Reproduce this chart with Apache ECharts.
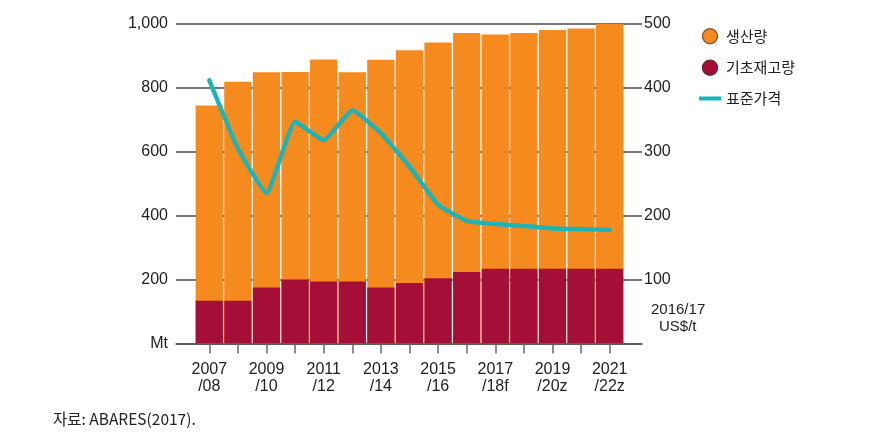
<!DOCTYPE html>
<html>
<head>
<meta charset="utf-8">
<script src="https://cdn.jsdelivr.net/npm/echarts@6/dist/echarts.min.js"></script>
<style>
html,body{margin:0;padding:0;background:#fff;}
#c{width:876px;height:440px;}
</style>
</head>
<body>
<div id="c"></div>
<script>
// ---- data ----
var categories = ['2007\n/08','2008\n/09','2009\n/10','2010\n/11','2011\n/12','2012\n/13','2013\n/14','2014\n/15','2015\n/16','2016\n/17','2017\n/18f','2018\n/19f','2019\n/20z','2020\n/21z','2021\n/22z'];
var labeledIdx = [0,2,4,6,8,10,12,14];
var baseStock = [134,134,175,200,194,194,175,189,204,224,234,234,234,234,234];
var totalSupply = [745,819,849,850,889,849,888,918,942,972,967,972,981,986,1000];
var price = [412,305,235,347,318,365,329,277,217,192,187,184,180,179,178];

var latin = '"Liberation Sans", Arial, sans-serif';
var kr = '"Noto Sans CJK KR", sans-serif';

function pairs(arr){ return arr.map(function(v,i){ return [i, v]; }); }

var chart = echarts.init(document.getElementById('c'), null, {renderer:'canvas'});
chart.setOption({
  animation:false,
  backgroundColor:'#ffffff',
  grid:{left:176, right:234, top:24, bottom:96.5, containLabel:false},
  legend:{
    orient:'vertical', left:694, top:23, itemGap:15, itemWidth:22, itemHeight:15,
    textStyle:{fontFamily:kr, fontSize:15, color:'#222'},
    data:[
      {name:'생산량', icon:'circle', itemStyle:{borderColor:'#8a5a30', borderWidth:1.5}},
      {name:'기초재고량', icon:'circle', itemStyle:{borderColor:'#6a2a30', borderWidth:1.5}},
      {name:'표준가격', icon:'path://M0,0h22v4h-22z', itemStyle:{color:'#1DB3B7'}}
    ]
  },
  xAxis:{
    type:'value', min:-1.164, max:15.13,
    axisLine:{show:true, onZero:false, lineStyle:{color:'#555', width:1.5}},
    splitLine:{show:false},
    axisTick:{show:true, length:10, customValues:categories.map(function(c,i){return i;}), lineStyle:{color:'#666', width:1.5}},
    axisLabel:{
      customValues:labeledIdx, margin:18,
      fontFamily:latin, fontSize:16, color:'#222', lineHeight:17, align:'center',
      formatter:function(v){ return categories[Math.round(v)]; }
    }
  },
  yAxis:[
    {
      type:'value', min:0, max:1000, interval:200, position:'left',
      axisLine:{show:false}, axisTick:{show:false},
      splitLine:{show:true, lineStyle:{color:'#4a4a4a', width:1.5}},
      axisLabel:{margin:8, fontFamily:latin, fontSize:16, color:'#222',
        formatter:function(v){ return v===0 ? 'Mt' : v.toLocaleString('en-US'); }}
    },
    {
      type:'value', min:0, max:500, interval:100, position:'right',
      axisLine:{show:false}, axisTick:{show:false}, splitLine:{show:false},
      axisLabel:{margin:2, fontFamily:latin, fontSize:16, color:'#222',
        formatter:function(v){ return v===0 ? '' : String(v); }}
    }
  ],
  graphic:[
    {type:'text', left:651, top:302, style:{text:'2016/17', font:'15px "Liberation Sans", Arial, sans-serif', fill:'#222'}},
    {type:'text', left:659, top:319, style:{text:'US$/t', font:'15px "Liberation Sans", Arial, sans-serif', fill:'#222'}},
    {type:'text', left:53, top:411, style:{text:'자료: ABARES(2017).', font:'15.5px "Noto Sans CJK KR", sans-serif', fill:'#222'}}
  ],
  series:[
    {name:'생산량', type:'bar', barWidth:27.3, barGap:'-100%', xAxisIndex:0, yAxisIndex:0,
     itemStyle:{color:'#F58A1F'}, data:pairs(totalSupply)},
    {name:'기초재고량', type:'bar', barWidth:27.3, barGap:'-100%', xAxisIndex:0, yAxisIndex:0,
     itemStyle:{color:'#A50F37'}, data:pairs(baseStock)},
    {name:'표준가격', type:'line', xAxisIndex:0, yAxisIndex:1, symbol:'none', smooth:0.12,
     lineStyle:{color:'#1DB3B7', width:4.5, join:'round', cap:'round'}, itemStyle:{color:'#1DB3B7'},
     z:5, data:pairs(price)}
  ]
});
</script>
</body>
</html>
